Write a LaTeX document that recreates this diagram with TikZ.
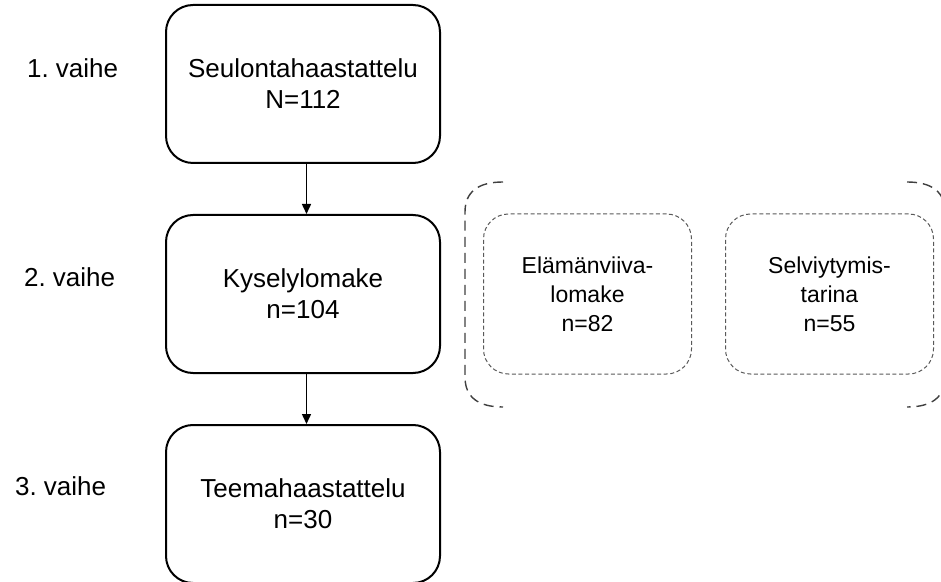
\documentclass[tikz,border=0pt]{standalone}
\usepackage{fontspec}
\setmainfont{Liberation Sans}
\usetikzlibrary{positioning, arrows.meta}
\frenchspacing

\begin{document}
\begin{tikzpicture}[
    x=0.5pt, y=-0.5pt,
    node distance=25pt and 21pt,
    stage/.style={draw, line width=1pt, rounded corners=13.5pt, minimum width=137pt, minimum height=79pt, align=center, font=\fontsize{13}{15.5}\selectfont},
    subform/.style={draw=black!65, line width=0.5pt, dash pattern=on 2pt off 1.3pt, rounded corners=12.5pt, minimum width=104pt, minimum height=80pt, align=center, font=\fontsize{11.5}{14.5}\selectfont},
    phase/.style={anchor=base west, font=\fontsize{13}{15.5}\selectfont},
    brace/.style={draw=black!75, line width=0.7pt, dash pattern=on 5pt off 3pt},
    arrow/.style={-{Triangle[width=4.5pt, length=5pt]}, line width=0.75pt}
]
    \useasboundingbox (0,0) rectangle (941,582);

    \node[stage] (s1) at (303,84) {Seulontahaastattelu\\N=112};
    \node[stage, below=of s1] (s2) {Kyselylomake\\n=104};
    \node[stage, below=of s2] (s3) {Teemahaastattelu\\n=30};

    \node[phase] (v1) at (20,78) {1. vaihe};
    \node[phase] (v2) at (17,287) {2. vaihe};
    \node[phase] (v3) at (8,495) {3. vaihe};

    \node[subform, right=of s2] (elama) {Elämänviiva-\\lomake\\n=82};
    \node[subform, right=16.5pt of elama] (selv) {Selviytymis-\\tarina\\n=55};

    \draw[arrow] ([xshift=1.75pt]s1.south) -- ([xshift=1.75pt]s2.north);
    \draw[arrow] ([xshift=1.75pt]s2.south) -- ([xshift=1.75pt]s3.north);

    % dashed brackets round the two forms
    \draw[brace] (503,182) .. controls (478,182) and (465,192) .. (465,212) -- (465,377)
        .. controls (465,397) and (478,407) .. (503,407);
    \draw[brace] (907,182) .. controls (932,182) and (945,192) .. (945,212) -- (945,377)
        .. controls (945,397) and (932,407) .. (907,407);

\end{tikzpicture}
\end{document}
